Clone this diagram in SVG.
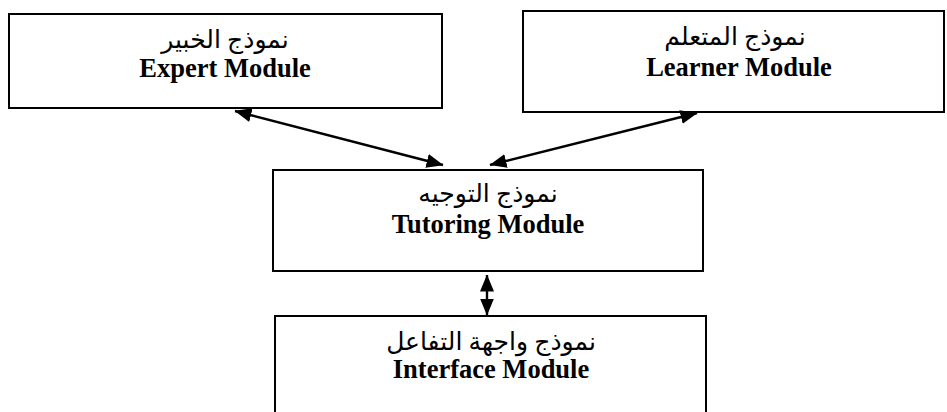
<svg xmlns="http://www.w3.org/2000/svg" width="947" height="412" viewBox="0 0 947 412">
  <style>
    .box { fill: #fff; stroke: #000; stroke-width: 2; }
    .ar { font-family: "Liberation Serif", "DejaVu Sans", serif; font-size: 25px; text-anchor: middle; fill: #000; }
    .en { font-family: "Liberation Serif", serif; font-size: 26.5px; font-weight: bold; text-anchor: middle; fill: #000; }
    .link { stroke: #000; stroke-width: 2.4; fill: none; marker-start: url(#head); marker-end: url(#head); }
  </style>
  <defs>
    <marker id="head" viewBox="0 0 17 14" refX="16.5" refY="7" markerWidth="17" markerHeight="14" markerUnits="userSpaceOnUse" orient="auto-start-reverse">
      <path d="M0,0 L17,7 L0,14 z" fill="#000"/>
    </marker>
  </defs>
  <rect width="947" height="412" fill="#fff"/>

  <g id="expert">
    <rect class="box" x="9" y="14" width="433" height="94"/>
    <text class="ar" x="225" y="48" direction="rtl">نموذج الخبير</text>
    <text class="en" x="225" y="77">Expert Module</text>
  </g>

  <g id="learner">
    <rect class="box" x="523" y="11" width="421" height="101"/>
    <text class="ar" x="735" y="45" direction="rtl">نموذج المتعلم</text>
    <text class="en" x="739" y="76">Learner Module</text>
  </g>

  <g id="tutoring">
    <rect class="box" x="273" y="170" width="430" height="101"/>
    <text class="ar" x="488" y="202" direction="rtl">نموذج التوجيه</text>
    <text class="en" x="488" y="233">Tutoring Module</text>
  </g>

  <g id="interface">
    <rect class="box" x="275" y="316" width="431" height="110"/>
    <text class="ar" x="491" y="350" direction="rtl">نموذج واجهة التفاعل</text>
    <text class="en" x="491" y="378">Interface Module</text>
  </g>

  <g id="connectors">
    <line class="link" x1="235" y1="111" x2="443" y2="165"/>
    <line class="link" x1="697" y1="113" x2="490" y2="165"/>
    <line class="link" x1="487" y1="275" x2="487" y2="315"/>
  </g>
</svg>
